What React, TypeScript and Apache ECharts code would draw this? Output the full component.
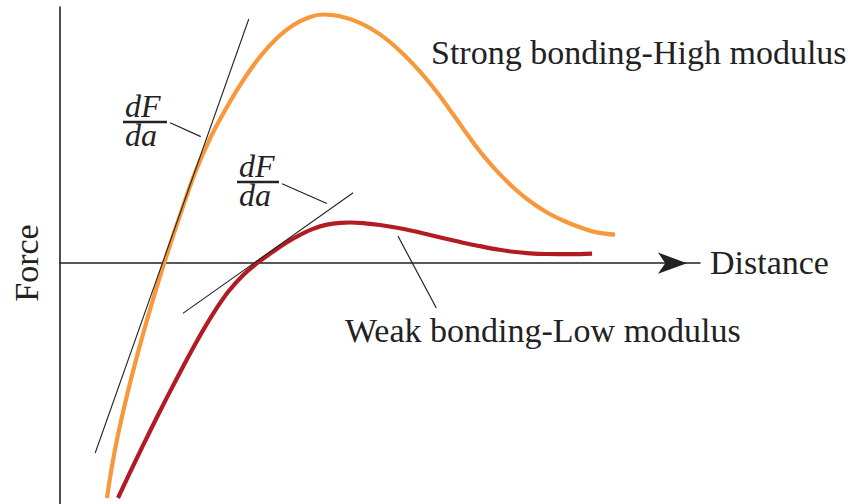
import React, { useEffect, useRef } from "react";
import * as echarts from "echarts";

// Strong bonding (high modulus) curve: distance vs force (arbitrary units)
const strongDistance = [7.34, 8.13, 9.06, 10.47, 12.03, 13.59, 14.84, 16.09, 17.5, 19.22, 21.09, 23.44, 26.09, 28.59, 31.25, 33.91, 36.41, 39.06, 41.09, 43.75, 46.88, 50.0, 53.13, 56.25, 58.91, 61.72, 64.06, 66.41, 68.75, 71.09, 73.44, 76.09, 78.59, 81.25, 83.91, 86.72];
const strongForce = [-91.65, -79.16, -66.98, -51.52, -36.3, -22.25, -11.63, -1.48, 9.41, 22.09, 35.21, 48.67, 60.97, 71.27, 80.56, 87.86, 92.86, 96.06, 97.07, 96.41, 93.83, 89.31, 82.83, 74.79, 66.71, 57.03, 48.83, 41.22, 34.66, 28.96, 24.16, 19.79, 16.67, 14.01, 12.02, 11.12];

// Weak bonding (low modulus) curve
const weakDistance = [9.06, 11.72, 14.06, 16.72, 19.22, 21.56, 23.91, 26.25, 28.59, 30.78, 33.13, 35.47, 37.5, 39.53, 41.72, 43.75, 45.31, 47.66, 50.0, 52.66, 55.16, 57.81, 60.47, 62.97, 65.63, 68.28, 70.78, 73.44, 76.09, 79.69, 83.13];
const weakForce = [-91.65, -77.6, -65.59, -52.38, -40.4, -29.66, -19.79, -11.28, -4.68, 0.0, 4.25, 8.16, 11.05, 13.39, 15.07, 15.77, 15.88, 15.57, 14.91, 13.82, 12.57, 11.01, 9.45, 8.0, 6.64, 5.39, 4.45, 3.86, 3.59, 3.51, 3.75];

// Tangent lines (dF/da at zero force)
const strongTangent = [[5.5, -74.1], [29.5, 95.3]];
const weakTangent = [[19.2, -19.6], [45.8, 27.5]];

// Leader lines for annotations
const strongSlopeLeader = [[17.2, 54.8], [22.0, 49.4]];
const weakSlopeLeader = [[34.7, 31.0], [41.7, 23.3]];
const weakLabelLeader = [[52.8, 10.6], [58.8, -17.5]];

// Axis range
const xRange = [0, 100];
const yRange = [-94, 100];

// Texts
const xAxisName = "Distance";
const yAxisName = "Force";
const strongLabel = "Strong bonding-High modulus";
const weakLabel = "Weak bonding-Low modulus";

const SERIF = '"Liberation Serif", "Times New Roman", serif';
const ORANGE = "#F8983A";
const RED = "#B31B22";
const INK = "#222222";

const zip = (xs: number[], ys: number[]) => xs.map((x, i) => [x, ys[i]]);

export default function App() {
  const ref = useRef<HTMLDivElement>(null);

  useEffect(() => {
    if (!ref.current) return;
    const chart = echarts.init(ref.current, undefined, { renderer: "svg" });

    const thin = (data: number[][], width = 1.1) => ({
      type: "line",
      data,
      symbol: "none",
      silent: true,
      lineStyle: { color: INK, width },
      z: 5,
    });

    const fraction = (left: number, barY: number, barLen: number) => [
      {
        type: "text",
        style: {
          x: left + 2,
          y: barY - 16,
          text: "dF",
          font: `italic 32px ${SERIF}`,
          lineHeight: 26,
          fill: INK,
          textAlign: "left",
          textVerticalAlign: "middle",
        },
      },
      {
        type: "line",
        shape: { x1: left, y1: barY, x2: left + barLen, y2: barY },
        style: { stroke: INK, lineWidth: 2.4 },
      },
      {
        type: "text",
        style: {
          x: left + 2,
          y: barY + 13,
          text: "da",
          font: `italic 32px ${SERIF}`,
          lineHeight: 26,
          fill: INK,
          textAlign: "left",
          textVerticalAlign: "middle",
        },
      },
    ];

    chart.setOption({
      animation: false,
      backgroundColor: "#ffffff",
      grid: { left: 60, right: 148, top: 7, bottom: 0, containLabel: false },
      xAxis: {
        type: "value",
        min: xRange[0],
        max: xRange[1],
        axisLine: {
          show: true,
          onZero: true,
          symbol: ["none", "arrow"],
          symbolSize: [16, 29],
          symbolOffset: [0, -13],
          lineStyle: { color: INK, width: 1.6 },
        },
        axisTick: { show: false },
        axisLabel: { show: false },
        splitLine: { show: false },
      },
      yAxis: {
        type: "value",
        min: yRange[0],
        max: yRange[1],
        axisLine: { show: true, onZero: false, lineStyle: { color: INK, width: 1.6 } },
        axisTick: { show: false },
        axisLabel: { show: false },
        splitLine: { show: false },
      },
      series: [
        {
          type: "line",
          name: strongLabel,
          data: zip(strongDistance, strongForce),
          smooth: 0.4,
          symbol: "none",
          silent: true,
          lineStyle: { color: ORANGE, width: 4.2 },
          z: 3,
        },
        {
          type: "line",
          name: weakLabel,
          data: zip(weakDistance, weakForce),
          smooth: 0.4,
          symbol: "none",
          silent: true,
          lineStyle: { color: RED, width: 4.2 },
          z: 3,
        },
        thin(strongTangent, 1.1),
        thin(weakTangent, 1.1),
        thin(strongSlopeLeader, 1.2),
        thin(weakSlopeLeader, 1.2),
        thin(weakLabelLeader, 1.2),
      ],
      graphic: [
        {
          type: "text",
          style: {
            x: 431,
            y: 52,
            text: strongLabel,
            font: `34px ${SERIF}`,
            fill: INK,
            textAlign: "left",
            textVerticalAlign: "middle",
          },
        },
        {
          type: "text",
          style: {
            x: 345,
            y: 330,
            text: weakLabel,
            font: `34px ${SERIF}`,
            fill: INK,
            textAlign: "left",
            textVerticalAlign: "middle",
          },
        },
        {
          type: "text",
          style: {
            x: 710,
            y: 262,
            text: xAxisName,
            font: `34px ${SERIF}`,
            fill: INK,
            textAlign: "left",
            textVerticalAlign: "middle",
          },
        },
        {
          type: "text",
          x: 26,
          y: 263,
          rotation: Math.PI / 2,
          style: {
            x: 0,
            y: 0,
            text: yAxisName,
            font: `34px ${SERIF}`,
            fill: INK,
            textAlign: "center",
            textVerticalAlign: "middle",
          },
        },
        ...fraction(123, 122, 44),
        ...fraction(237, 182, 42),
      ],
    });

    return () => chart.dispose();
  }, []);

  return (
    <div
      ref={ref}
      style={{ position: "fixed", left: 0, top: 0, width: 848, height: 504, background: "#fff" }}
    />
  );
}
